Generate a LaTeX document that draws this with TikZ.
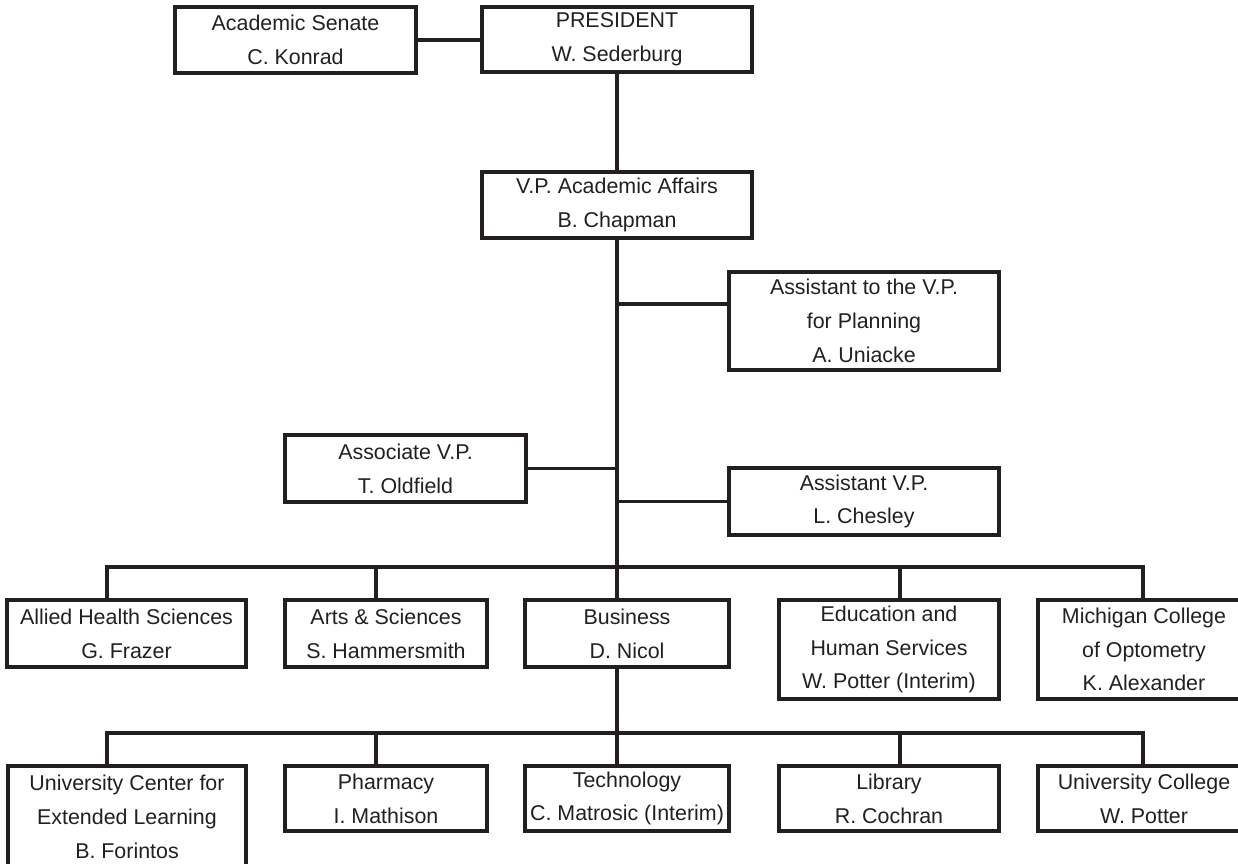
\documentclass[tikz,border=0pt]{standalone}
\usepackage{fontspec}
\setmainfont{Liberation Sans}
\usepackage{xcolor}
\usetikzlibrary{positioning, calc}

\definecolor{ink}{HTML}{231F20}
\newcommand{\boxfont}{\fontsize{10.7}{16.9}\selectfont}

\begin{document}
\begin{tikzpicture}[
	  x=0.5pt, y=-0.5pt,
	  box/.style={draw=ink, line width=1.6pt, align=center, inner sep=0pt, text=ink, font=\boxfont},
	  twoline/.style={box, minimum height=33.5pt},
	  threeline/.style={box, minimum height=49.5pt},
	  conn/.style={draw=ink, line width=1.6pt}
	]
	\useasboundingbox (0,0) rectangle (1238,863);

	\node[twoline, minimum width=120.5pt, minimum height=33pt] (senate) at (295.5,40) {Academic Senate\\C. Konrad};
	\node[twoline, minimum width=135pt, minimum height=32.5pt] (pres) at (617,39.5) {PRESIDENT\\W. Sederburg};
	\node[twoline, minimum width=135pt, minimum height=33pt] (vpaa) at (617,205) {V.P. Academic Affairs\\B. Chapman};

	\node[threeline, minimum width=135pt, minimum height=49pt] (planning) at (864,321) {Assistant to the V.P.\\for Planning\\A. Uniacke};
	\node[twoline, minimum width=120.5pt] (assoc) at (405.5,468.5) {Associate V.P.\\T. Oldfield};
	\node[twoline, minimum width=135pt] (asstvp) at (864,501.5) {Assistant V.P.\\L. Chesley};

	\node[twoline, minimum width=119.5pt] (allied) at (126.5,633.5) {Allied Health Sciences\\G. Frazer};
	\node[twoline, minimum width=101pt] (arts) at (386,633.5) {Arts \& Sciences\\S. Hammersmith};
	\node[twoline, minimum width=102pt] (business) at (627,633.5) {Business\\D. Nicol};
	\node[threeline, minimum width=110pt] (education) at (889,649.5) {Education and\\Human Services\\W. Potter (Interim)};
	\node[threeline, minimum width=106pt] (michigan) at (1144,649.5) {Michigan College\\of Optometry\\K. Alexander};

	\node[threeline, minimum width=119pt, minimum height=51pt] (uce) at (127,817) {University Center for\\Extended Learning\\B. Forintos};
	\node[twoline, minimum width=101pt, minimum height=32.5pt] (pharmacy) at (386,798.5) {Pharmacy\\I. Mathison};
	\node[twoline, minimum width=102pt, minimum height=32.5pt] (tech) at (627,798.5) {Technology\\C. Matrosic (Interim)};
	\node[twoline, minimum width=110pt, minimum height=32.5pt] (library) at (889,798.5) {Library\\R. Cochran};
	\node[twoline, minimum width=106pt, minimum height=32.5pt] (ucollege) at (1144,798.5) {University College\\W. Potter};

	\coordinate (jplan) at (617,304);
	\coordinate (bus1l) at (107,567);
	\coordinate (bus1r) at (1143,567);
	\coordinate (bus2l) at (107,733);
	\coordinate (bus2r) at (1143,733);

	\draw[conn] (senate.east) -- (senate.east -| pres.west);
	\draw[conn] (pres.south) -- (vpaa.north);
	\draw[conn] (vpaa.south) -- (vpaa.south |- business.north);
	\draw[conn] (jplan) -- (jplan -| planning.west);
	\draw[conn] (assoc.east) -- (assoc.east -| vpaa.south);
	\draw[conn] (asstvp.west) -- (asstvp.west -| vpaa.south);

	\draw[conn] (allied.north -| bus1l) -- (bus1l) -- (bus1r) -- (michigan.north -| bus1r);
	\foreach \n/\d in {arts/376, education/900}
	  \draw[conn] (\n.north -| \d,567) -- (\d,567);

	\draw[conn] (vpaa.south |- business.south) -- (vpaa.south |- bus2l);
	\draw[conn] (uce.north -| bus2l) -- (bus2l) -- (bus2r) -- (ucollege.north -| bus2r);
	\foreach \n/\d in {pharmacy/376, library/900}
	  \draw[conn] (\n.north -| \d,733) -- (\d,733);
	\draw[conn] (vpaa.south |- tech.north) -- (vpaa.south |- bus2l);

\end{tikzpicture}
\end{document}
